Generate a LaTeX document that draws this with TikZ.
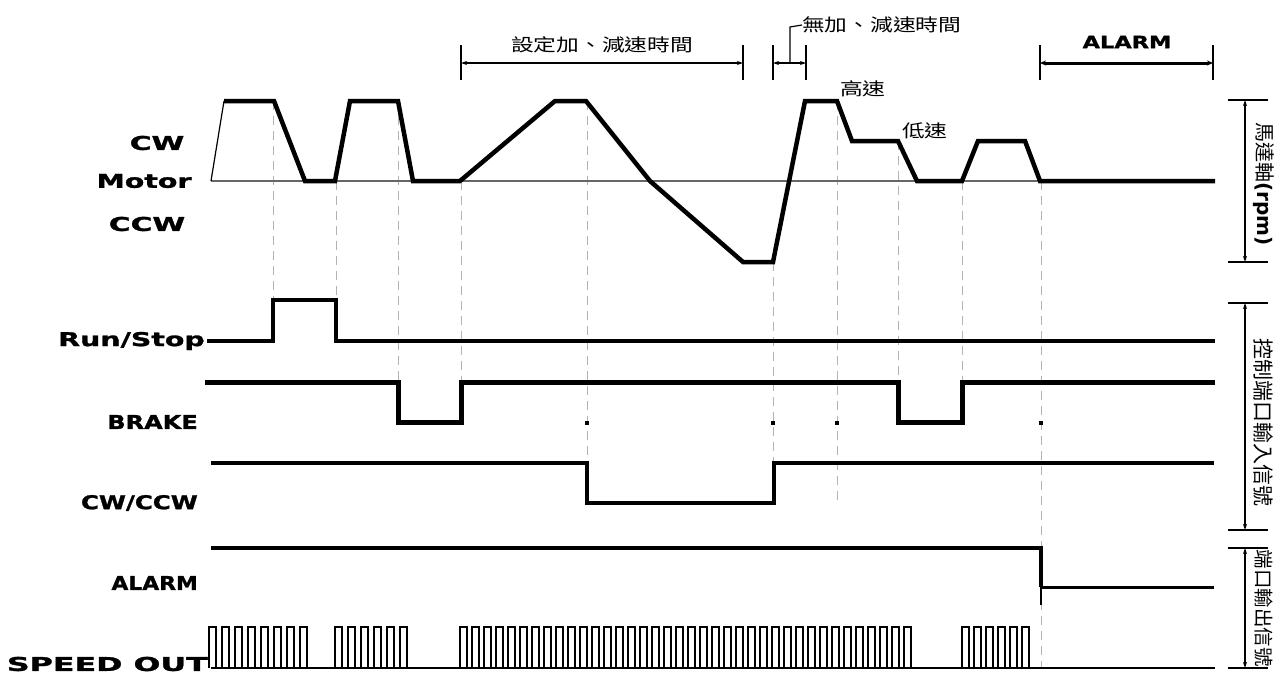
\documentclass[tikz,border=0pt]{standalone}
\usepackage{fontspec}
\usepackage{graphicx}
\usetikzlibrary{arrows.meta}
\newfontfamily\lblfont[FakeStretch=1.15,BoldFeatures={FakeBold=1.3}]{DejaVu Sans}
\newfontfamily\cjk[FakeStretch=1.3]{Noto Sans CJK TC}
\newfontfamily\cjkv{Noto Sans CJK TC}
\newfontfamily\latv{DejaVu Sans}
\newcommand{\wide}[2]{\scalebox{#1}[1]{#2}}
\begin{document}
\begin{tikzpicture}[x=1pt,y=-1pt,
  sig/.style={line width=4.5pt},
  thinsig/.style={line width=1.2pt},
  guide/.style={gray!60,line width=1pt,dash pattern=on 9pt off 6pt},
  lab/.style={font=\lblfont\bfseries\fontsize{19}{19}\selectfont,anchor=east,inner sep=0pt},
  mlab/.style={font=\lblfont\bfseries\fontsize{19}{19}\selectfont,inner sep=0pt},
  zh/.style={font=\cjk\fontsize{17.5}{17.5}\selectfont,inner sep=0pt},
  vzh/.style={rotate=-90,inner sep=0pt},
  dimline/.style={line width=1.2pt,{Stealth[length=6pt,width=4pt]}-{Stealth[length=6pt,width=4pt]}},
  tickline/.style={line width=1.2pt},
  sqmark/.style={fill=black,minimum size=4pt,inner sep=0pt}]
\useasboundingbox (0,0) rectangle (1285,673);
\fill[white] (0,0) rectangle (1285,673);

% ---------- guide (dashed) lines ----------
\draw[guide] (273,101) -- (273,300);
\draw[guide] (336,181) -- (336,300);
\draw[guide] (398,101) -- (398,382);
\draw[guide] (461,181) -- (461,382);
\draw[guide] (587,101) -- (587,463);
\draw[guide] (773,262) -- (773,463);
\draw[guide] (837,101) -- (837,505);
\draw[guide] (898,141) -- (898,382);
\draw[guide] (962,181) -- (962,382);
\draw[guide] (1041,181) -- (1041,668);
\node[sqmark] (m1) at (587,423) {};
\node[sqmark] (m2) at (773,423) {};
\node[sqmark] (m3) at (837,423) {};
\node[sqmark] (m4) at (1041,423) {};

% ---------- left labels ----------
\node[mlab] (cw) at (157,143) {\wide{1.36}{CW}};
\node[mlab] (motor) at (144,181) {\wide{1.3}{Motor}};
\node[mlab] (ccw) at (147,224) {\wide{1.36}{CCW}};
\node[lab] (run) at (205,341) {\wide{1.3}{Run/Stop}};
\node[lab] (brake) at (198,422) {\wide{1.1}{BRAKE}};
\node[lab] (cwccw) at (198,503) {\wide{1.12}{CW/CCW}};
\node[lab] (alarm) at (198,583) {\wide{1.0}{ALARM}};
\node[lab] (speed) at (208,664) {\wide{1.45}{SPEED OUT}};

% ---------- motor speed ----------
\draw[thinsig,gray!80!black] (211,181) -- (1215,181);
\draw[thinsig] (211,181) -- (224,101);
\draw[sig] (224,101) -- (274,101) -- (305,181) -- (335,181) -- (350,101) -- (398,101)
  -- (413,181) -- (460,181) -- (555,101) -- (586,101) -- (650,181) -- (743,262)
  -- (773,262) -- (805,101) -- (837,101) -- (852,141) -- (898,141) -- (917,181)
  -- (962,181) -- (978,141) -- (1025,141) -- (1040,181) -- (1215,181);
\node[zh,anchor=west] (hi) at (840,89) {高速};
\node[zh,anchor=west] (lo) at (902,131) {低速};

% ---------- Run/Stop ----------
\draw[line width=3.5pt] (run.east) ++(2,0) -- (273,341) -- (273,300) -- (336,300) -- (336,341) -- (1215,341);
% ---------- BRAKE ----------
\draw[line width=5pt] (205,382) -- (398,382) -- (398,422) -- (461,422) -- (461,382)
  -- (898,382) -- (898,422) -- (962,422) -- (962,382) -- (1215,382);
% ---------- CW/CCW ----------
\draw[line width=4pt] (211,463) -- (587,463) -- (587,503) -- (774,503) -- (774,463) -- (1214,463);
% ---------- ALARM ----------
\draw[line width=4pt] (211,548) -- (1041,548) -- (1041,587);
\draw[line width=3pt] (1041,587) -- (1214,587);
\draw[line width=1.2pt] (1041,587) -- (1041,605);
% ---------- SPEED OUT ----------
\draw[thinsig] (211,668) -- (1215,668);
\foreach \s/\n/\p in {209/8/13, 335/6/13, 460/38/12, 962/6/12}{
  \pgfmathtruncatemacro{\last}{\n-1}
  \foreach \i in {0,...,\last}{
    \pgfmathsetmacro{\xa}{\s+\i*\p}
    \draw[line width=1.1pt] (\xa,668) -- (\xa,627) -- (\xa+7,627) -- (\xa+7,668);
  }
}

% ---------- top dimensions ----------
\coordinate (a1) at (461,63); \coordinate (a2) at (743,63);
\draw[tickline] (461,45) -- (461,80); \draw[tickline] (743,45) -- (743,80);
\draw[dimline] (a1) -- (a2);
\node[zh] (t1) at (602,45) {設定加、減速時間};

\coordinate (b1) at (773,63); \coordinate (b2) at (806,63);
\draw[tickline] (773,45) -- (773,80); \draw[tickline] (806,45) -- (806,80);
\draw[dimline] (b1) -- (b2);
\node[zh,anchor=west] (t2) at (802,25) {無加、減速時間};
\draw[line width=1.2pt] (790,63) -- (790,27) -- (t2.west);

\coordinate (c1) at (1040,63); \coordinate (c2) at (1213,63);
\draw[tickline] (1040,45) -- (1040,80); \draw[tickline] (1213,45) -- (1213,80);
\draw[line width=3pt,{Stealth[length=6pt,width=5pt]}-{Stealth[length=6pt,width=5pt]}] (c1) -- (c2);
\node[mlab,font=\lblfont\bfseries\fontsize{17}{17}\selectfont] (t3) at (1127,42) {\wide{1.15}{ALARM}};

% ---------- right brackets ----------
\foreach \ya/\yb in {100/262, 303/530, 548/668}{
  \draw[tickline] (1228,\ya) -- (1268,\ya);
  \draw[tickline] (1228,\yb) -- (1268,\yb);
  \draw[dimline] (1245,\ya) -- (1245,\yb);
}
\node[vzh] (r1) at (1264,184) {\cjkv\fontsize{20}{20}\selectfont 馬達軸{\latv\bfseries (rpm)}};
\node[vzh] (r2) at (1264,422) {\cjkv\fontsize{21}{21}\selectfont 控制端口輸入信號};
\node[vzh] (r3) at (1264,608) {\cjkv\fontsize{19.5}{19.5}\selectfont 端口輸出信號};
\end{tikzpicture}
\end{document}
